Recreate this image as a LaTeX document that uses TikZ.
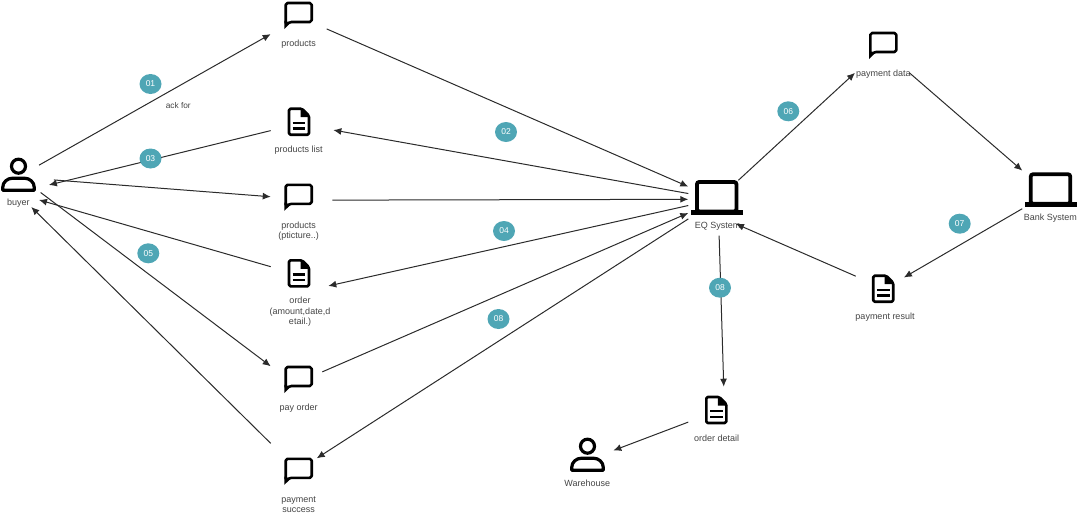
\documentclass[tikz,border=0pt]{standalone}
\usepackage{fontspec}
\setmainfont{Liberation Sans}
\usepackage{xcolor}
\usetikzlibrary{shapes.geometric, arrows.meta, positioning}
\definecolor{badgeteal}{HTML}{4FA6B5}
\definecolor{linegrey}{HTML}{2B2B2B}
\definecolor{textgrey}{HTML}{444444}
\tikzstyle{item} = [rectangle, inner sep=0pt, outer sep=0pt]
\tikzstyle{caption} = [text=textgrey, font=\fontsize{9}{10.5}\selectfont, align=center, inner sep=0pt, yshift=-1pt]
\tikzstyle{badge} = [ellipse, fill=badgeteal, text=white, inner sep=0pt, minimum width=22pt, minimum height=20pt, font=\fontsize{8.5}{9}\selectfont]
\tikzstyle{arrow} = [line width=1pt, draw=linegrey, ->, >={Latex[length=8pt,width=7pt]}]
\tikzset{
  bubble/.pic={
    \draw[line width=2.6pt, rounded corners=1.8pt, line join=round] (-13,-9.7) -- (13,-9.7) -- (13,9.3) -- (-9,9.3) -- (-13,12) -- cycle;
    \fill (-14.3,8) -- (-14.3,16.3) -- (-8.5,10.6) -- cycle;
  },
  doc/.pic={
    \draw[line width=2.6pt, rounded corners=1.5pt, line join=round] (-10,-13) -- (3,-13) -- (10,-6) -- (10,13) -- (-10,13) -- cycle;
    \fill (1.5,-14) -- (11,-4.5) -- (1.5,-4.5) -- cycle;
    \draw[line width=2.4pt] (-6.3,1) -- (6.3,1);
    \draw[line width=2.4pt] (-6.3,6.8) -- (6.3,6.8);
  },
  person/.pic={
    \draw[line width=3.2pt] (0,-8.8) circle (7);
    \draw[line width=3.2pt, line join=round] (-15.8,15.3) -- (-15.8,12.5) .. controls (-15.8,7) and (-11,3.2) .. (-6,3.2) -- (6,3.2) .. controls (11,3.2) and (15.8,7) .. (15.8,12.5) -- (15.8,15.3) -- cycle;
  },
  laptop/.pic={
    \draw[line width=3.8pt, rounded corners=2.5pt] (-19.8,-15.6) rectangle (19.8,14);
    \fill (-26,12.5) rectangle (26,17.5);
  }
}

\begin{document}
\begin{tikzpicture}[x=1pt, y=-1pt]
  \useasboundingbox (0,0) rectangle (1080,515);

  % Boxes the connectors attach to
  \node[item, minimum width=42pt, minimum height=52pt] (buyer) at (18,181) {};
  \node[item, minimum width=56pt, minimum height=46pt] (products) at (298.7,25) {};
  \node[item, minimum width=62.6pt, minimum height=40pt] (productslist) at (302,135) {};
  \node[item, minimum width=61.6pt, minimum height=60pt] (productspic) at (301.5,205) {};
  \node[item, minimum width=57.6pt, minimum height=60pt] (order) at (299.5,290) {};
  \node[item, minimum width=51.6pt, minimum height=50pt] (payorder) at (296.5,385) {};
  \node[item, minimum width=46pt, minimum height=64pt] (paysuccess) at (293.7,475) {};
  \node[item, minimum width=56.8pt, minimum height=55.4pt] (eq) at (716.7,208) {};
  \node[item, minimum width=54.4pt, minimum height=50pt] (paydata) at (882.2,50) {};
  \node[item, minimum width=55.4pt, minimum height=60pt] (bank) at (1050,190) {};
  \node[item, minimum width=48.2pt, minimum height=50pt] (payresult) at (879.8,295) {};
  \node[item, minimum width=56.8pt, minimum height=56.6pt] (orderdetail) at (716.7,415) {};
  \node[item, minimum width=51.6pt, minimum height=56pt] (warehouse) at (587.5,462) {};

  % Icons
  \pic at (18.5,175) {person};
  \pic at (587.5,455) {person};
  \pic at (298.7,12.7) {bubble};
  \pic at (298.7,194.5) {bubble};
  \pic at (298.7,376.7) {bubble};
  \pic at (298.7,468.5) {bubble};
  \pic at (883.3,42.7) {bubble};
  \pic at (299,121.7) {doc};
  \pic at (299,273.3) {doc};
  \pic at (883.2,288.7) {doc};
  \pic at (716.3,410) {doc};
  \pic at (716.7,197.5) {laptop};
  \pic at (1050.5,189.8) {laptop};

  % Captions
  \node[caption] (buyertext) at (18.3,201.7) {buyer};
  \node[caption] (productstext) at (298.7,42.7) {products};
  \node[caption] (listtext) at (298.7,149) {products list};
  \node[caption] (pictext) at (298.7,230.3) {products\\(pticture..)};
  \node[caption] (ordertext) at (300,311) {order\\(amount,date,d\\etail.)};
  \node[caption] (payordertext) at (298.7,407) {pay order};
  \node[caption] (successtext) at (298.7,503.8) {payment\\success};
  \node[caption] (datatext) at (883.3,73) {payment data};
  \node[caption] (eqtext) at (717.7,225) {EQ System};
  \node[caption] (banktext) at (1050.3,217) {Bank System};
  \node[caption] (resulttext) at (885,316) {payment result};
  \node[caption] (detailtext) at (716.7,437) {order detail};
  \node[caption] (warehousetext) at (587.3,482.7) {Warehouse};
  \node[caption, font=\fontsize{8.3}{10}\selectfont] (askfor) at (178.3,104.7) {ack for};

  % Buyer side
  \draw[arrow] (buyer.37.3) -- (products.198.4);
  \draw[arrow, shorten >=10.2pt] (productslist.172.2) -- (buyer.-17.2);
  \draw[arrow, shorten <=15pt] (buyer.6) -- (productspic.165.4);
  \draw[arrow] (order.141) -- (buyer.-42.1);
  \draw[arrow, shorten <=2pt] (buyer.-26.6) -- (payorder.144.6);
  \draw[arrow] (paysuccess.126.8) -- (buyer.-63.4);

  % EQ System side
  \draw[arrow] (products.-8.7) -- (eq.143.1);
  \draw[arrow] (eq.153.8) -- (productslist.9.1);
  \draw[arrow] (productspic.9.8) -- (eq.163.3);
  \draw[arrow] (eq.175.4) -- (order.8.5);
  \draw[arrow] (payorder.27.3) -- (eq.190.6);
  \draw[arrow] (eq.201.2) -- (paysuccess.36.9);

  % Payment round
  \draw[arrow] (eq.52.8) -- (paydata.220.6);
  \draw[arrow] (paydata.-40.6) -- (bank.145.1);
  \draw[arrow] (bank.214.4) -- (payresult.36.3);
  \draw[arrow, shorten >=-10pt] (payresult.142.8) -- (eq.-35.2);

  % Order detail
  \draw[arrow] (eq.-85.9) -- (orderdetail.76.9);
  \draw[arrow] (orderdetail.194.4) -- (warehouse.24.9);

  % Step numbers
  \node[badge] (step01) at (150.5,84) {01};
  \node[badge] (step02) at (506,132) {02};
  \node[badge] (step03) at (150.5,158.5) {03};
  \node[badge] (step04) at (504,231) {04};
  \node[badge] (step05) at (148.3,253.3) {05};
  \node[badge] (step06) at (788.3,111.3) {06};
  \node[badge] (step07) at (959.7,223.7) {07};
  \node[badge] (step08a) at (498.5,319) {08};
  \node[badge] (step08b) at (720,287.7) {08};
\end{tikzpicture}
\end{document}
